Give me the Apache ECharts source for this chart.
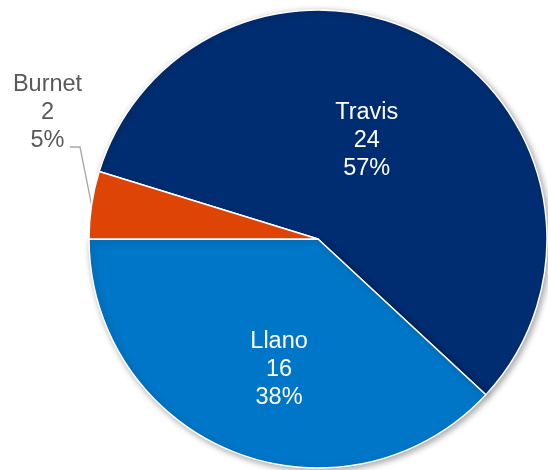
<!DOCTYPE html>
<html>
<head>
<meta charset="utf-8">
<script src="https://cdn.jsdelivr.net/npm/echarts@6/dist/echarts.min.js"></script>
<style>
  html, body { margin: 0; padding: 0; background: #fff; }
  #chart { width: 548px; height: 470px; }
</style>
</head>
<body>
<div id="chart"></div>
<script>
// data
var counties = ['Travis', 'Llano', 'Burnet'];
var counts = [24, 16, 2];
var sliceColors = ['#002D72', '#0076C8', '#DD4405'];

// layout of the pie (pixels)
var cx = 318, cy = 239, radius = 229;
var total = counts.reduce(function (a, b) { return a + b; }, 0);
// Burnet ends at 9 o'clock, so Travis starts just above it
var burnetSweep = 360 * counts[2] / total;
var startAngle = 180 - burnetSweep;

var pieData = counties.map(function (name, i) {
  var item = {
    name: name,
    value: counts[i],
    itemStyle: { color: sliceColors[i] }
  };
  if (name === 'Burnet') {
    item.itemStyle.shadowBlur = 0;
    item.itemStyle.shadowOffsetX = 0;
    item.itemStyle.shadowOffsetY = 0;
    item.label = { position: 'outside', color: '#595959', align: 'center' };
    item.labelLine = { show: true };
  }
  return item;
});

var myChart = echarts.init(document.getElementById('chart'), null, { renderer: 'canvas' });

myChart.setOption({
  animation: false,
  backgroundColor: '#ffffff',
  series: [{
    type: 'pie',
    center: [cx, cy],
    radius: radius,
    startAngle: startAngle,
    clockwise: true,
    avoidLabelOverlap: false,
    data: pieData,
    itemStyle: {
      borderColor: '#ffffff',
      borderWidth: 1.5,
      shadowBlur: 6,
      shadowOffsetX: 2,
      shadowOffsetY: 2,
      shadowColor: 'rgba(0,0,0,0.35)'
    },
    emphasis: { disabled: true },
    label: {
      show: true,
      position: 'inside',
      color: '#ffffff',
      fontFamily: 'Liberation Sans, Arial, sans-serif',
      fontSize: 23.5,
      lineHeight: 28,
      align: 'center',
      formatter: function (p) {
        return p.name + '\n' + p.value + '\n' + Math.round(p.percent) + '%';
      }
    },
    labelLine: {
      show: false,
      lineStyle: { color: '#a6a6a6', width: 1.3 }
    },
    labelLayout: function (p) {
      if (p.dataIndex === 0) {
        return { dx: -10, dy: 3 };
      }
      if (p.dataIndex === 1) {
        return { dx: 4, dy: 21 };
      }
      // Burnet: label placed up and left, leader drawn from the slice edge
      var lx = 47.5, ly = 113;
      var mid = (180 - burnetSweep / 2) * Math.PI / 180;
      var edge = [cx + radius * Math.cos(mid), cy - radius * Math.sin(mid)];
      return {
        x: lx,
        y: ly,
        align: 'center',
        verticalAlign: 'middle',
        labelLinePoints: [edge, [lx + 32.5, ly + 34], [lx + 22.5, ly + 34]]
      };
    }
  }]
});
</script>
</body>
</html>
